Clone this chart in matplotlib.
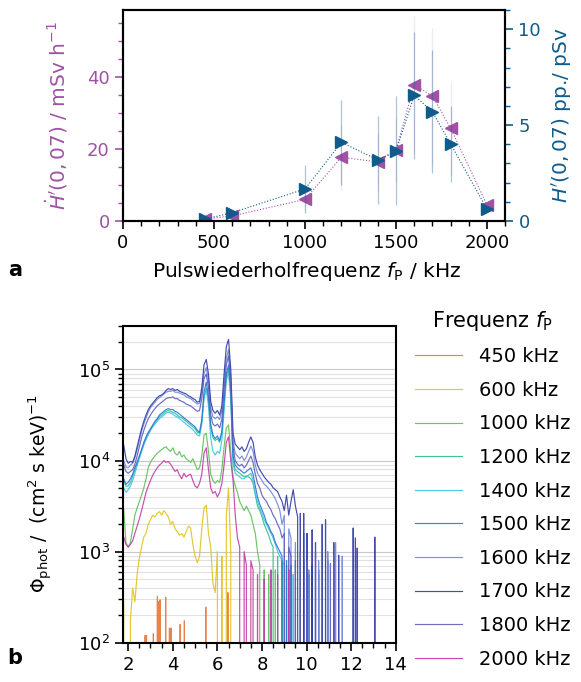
import numpy as np
import matplotlib
matplotlib.use("Agg")
import matplotlib.pyplot as plt
from matplotlib.ticker import MultipleLocator, LogLocator, NullFormatter

plt.rcParams['font.family'] = ['DejaVu Sans']
plt.rcParams['font.size'] = 13
plt.rcParams['mathtext.fontset'] = 'dejavusans'

# ---- Panel a: Dosisleistung / Dosis pro Puls ----
frequenz = [450, 600, 1000, 1200, 1400, 1500, 1600, 1700, 1800, 2000]
h_dot = [0.5, 1.4, 6.0, 17.7, 16.4, 19.7, 37.8, 34.7, 25.7, 4.4]          # mSv/h
h_dot_err = [0.3, 0.5, 3.0, 9.0, 8.0, 9.0, 19.0, 19.0, 13.0, 1.0]
h_pp = [0.1, 0.43, 1.67, 4.1, 3.18, 3.66, 6.55, 5.69, 4.01, 0.61]         # pSv
h_pp_err = [0.05, 0.1, 1.25, 2.23, 2.3, 2.84, 3.3, 3.2, 2.0, 0.1]

# ---- Panel b: Photonenspektren (log10 des Flusses, 0 = keine Zaehlung) ----
energie = np.round(np.arange(1.8, 9.65, 0.1), 1)  # keV

lg_600 = [2.45, 0, 0, 2.25, 2.6, 2.45, 2.75, 2.93, 3.05, 3.16,
          3.2, 3.3, 3.35, 3.4, 3.38, 3.42, 3.44, 3.40, 3.45, 3.42,
          3.38, 3.30, 3.33, 3.25, 3.22, 3.18, 3.20, 3.16, 3.22, 3.28,
          3.26, 3.08, 2.95, 2.88, 2.95, 3.25, 3.48, 3.51, 3.20, 3.05,
          2.65, 2.55, 3.0, 0, 2.95, 0, 3.4, 3.70, 3.0, 0,
          0, 0, 0, 0, 0, 0, 0, 0, 0, 0,
          0, 0, 0, 0, 0, 0, 0, 0, 0, 0,
          0, 0, 0, 0, 0, 0, 0, 0, 0]
lg_1000 = [3.46, 3.10, 3.05, 3.10, 3.25, 3.40, 3.48, 3.55, 3.62, 3.70,
           3.80, 3.92, 3.98, 4.02, 4.05, 4.08, 4.10, 4.12, 4.14, 4.15,
           4.12, 4.10, 4.14, 4.08, 4.06, 4.10, 4.04, 4.06, 4.02, 4.00,
           3.98, 4.02, 3.96, 3.90, 3.92, 4.05, 4.28, 4.30, 4.10, 3.85,
           3.78, 3.75, 3.78, 3.76, 3.90, 4.15, 4.36, 4.39, 4.10, 3.82,
           3.72, 3.65, 3.55, 3.50, 3.45, 3.50, 3.45, 3.40, 3.30, 3.20,
           3.0, 2.85, 0, 2.8, 0, 2.75, 0, 0, 2.8, 0,
           0, 0, 0, 0, 0, 0, 0, 0, 0]
lg_1200 = [3.78, 3.72, 3.72, 3.76, 3.82, 3.90, 3.97, 4.04, 4.11, 4.18,
           4.24, 4.30, 4.34, 4.38, 4.42, 4.45, 4.48, 4.50, 4.52, 4.54,
           4.55, 4.54, 4.53, 4.52, 4.50, 4.48, 4.47, 4.45, 4.43, 4.41,
           4.39, 4.37, 4.35, 4.31, 4.30, 4.42, 4.70, 4.80, 4.66, 4.36,
           4.25, 4.22, 4.24, 4.20, 4.30, 4.60, 4.92, 5.00, 4.72, 4.00,
           3.90, 3.88, 3.86, 3.84, 3.82, 3.83, 3.82, 3.80, 3.75, 3.62,
           3.50, 3.45, 3.38, 3.30, 3.24, 3.18, 3.10, 3.05, 0, 2.95,
           0, 2.9, 0, 2.85, 0, 0, 0, 0, 0]
lg_1400 = [3.70, 3.65, 3.68, 3.72, 3.78, 3.86, 3.94, 4.02, 4.10, 4.17,
           4.23, 4.28, 4.33, 4.37, 4.40, 4.43, 4.46, 4.48, 4.50, 4.52,
           4.53, 4.52, 4.51, 4.49, 4.48, 4.46, 4.44, 4.42, 4.40, 4.38,
           4.36, 4.34, 4.31, 4.28, 4.27, 4.40, 4.68, 4.78, 4.60, 4.25,
           4.10, 4.06, 4.10, 4.08, 4.22, 4.55, 4.88, 4.97, 4.68, 3.96,
           3.86, 3.84, 3.82, 3.80, 3.80, 3.82, 3.84, 3.86, 3.78, 3.64,
           3.55, 3.48, 3.42, 3.35, 3.30, 3.25, 3.20, 3.15, 3.08, 3.00,
           2.95, 2.9, 2.85, 0, 2.8, 0, 2.75, 0, 0]
lg_1500 = [3.80, 3.74, 3.76, 3.80, 3.85, 3.92, 3.98, 4.05, 4.12, 4.20,
           4.26, 4.31, 4.35, 4.39, 4.43, 4.46, 4.50, 4.52, 4.54, 4.56,
           4.57, 4.56, 4.56, 4.54, 4.53, 4.51, 4.49, 4.47, 4.45, 4.43,
           4.41, 4.39, 4.37, 4.33, 4.31, 4.45, 4.75, 4.86, 4.70, 4.40,
           4.28, 4.24, 4.27, 4.22, 4.32, 4.65, 4.95, 5.05, 4.78, 4.05,
           3.95, 3.92, 3.90, 3.88, 3.86, 3.88, 3.90, 3.92, 3.85, 3.72,
           3.60, 3.52, 3.46, 3.40, 3.32, 3.28, 3.22, 3.18, 3.10, 3.05,
           3.0, 2.95, 0, 2.9, 0, 2.85, 0, 0, 0]
lg_1600 = [4.00, 3.93, 3.92, 3.95, 3.97, 4.03, 4.12, 4.22, 4.32, 4.40,
           4.47, 4.53, 4.58, 4.61, 4.64, 4.67, 4.69, 4.71, 4.73, 4.75,
           4.76, 4.76, 4.77, 4.75, 4.75, 4.74, 4.73, 4.72, 4.70, 4.69,
           4.68, 4.66, 4.64, 4.62, 4.63, 4.75, 4.95, 5.02, 4.88, 4.58,
           4.48, 4.46, 4.48, 4.45, 4.55, 4.85, 5.12, 5.22, 4.92, 4.22,
           4.08, 4.05, 4.02, 4.05, 4.00, 4.04, 4.10, 4.16, 4.10, 3.95,
           3.86, 3.82, 3.78, 3.74, 3.72, 3.69, 3.66, 3.62, 3.58, 3.52,
           3.45, 3.30, 3.40, 0, 3.25, 3.15, 0, 3.1, 0]
lg_1700 = [4.17, 4.02, 3.97, 3.99, 3.98, 4.05, 4.15, 4.25, 4.35, 4.43,
           4.50, 4.56, 4.60, 4.63, 4.66, 4.69, 4.71, 4.72, 4.74, 4.77,
           4.79, 4.78, 4.79, 4.77, 4.78, 4.76, 4.75, 4.74, 4.73, 4.71,
           4.70, 4.68, 4.67, 4.64, 4.65, 4.80, 5.05, 5.11, 4.95, 4.65,
           4.55, 4.52, 4.55, 4.50, 4.60, 4.95, 5.25, 5.33, 5.00, 4.30,
           4.18, 4.15, 4.12, 4.15, 4.10, 4.13, 4.20, 4.26, 4.20, 4.04,
           3.95, 3.90, 3.86, 3.82, 3.79, 3.76, 3.74, 3.70, 3.68, 3.66,
           3.60, 3.55, 3.45, 3.62, 3.40, 3.55, 3.68, 3.50, 3.38]
lg_1800 = [3.95, 3.88, 3.86, 3.88, 3.90, 3.96, 4.05, 4.15, 4.25, 4.33,
           4.40, 4.46, 4.50, 4.54, 4.57, 4.60, 4.62, 4.64, 4.66, 4.68,
           4.69, 4.69, 4.70, 4.68, 4.68, 4.66, 4.65, 4.64, 4.62, 4.61,
           4.60, 4.58, 4.56, 4.54, 4.55, 4.68, 4.90, 4.95, 4.80, 4.50,
           4.40, 4.38, 4.40, 4.36, 4.45, 4.78, 5.05, 5.15, 4.85, 4.15,
           4.00, 3.96, 3.94, 3.96, 3.92, 3.95, 4.00, 4.05, 3.98, 3.85,
           3.75, 3.70, 3.62, 3.58, 3.55, 3.50, 3.46, 3.40, 3.36, 3.30,
           3.25, 3.15, 3.20, 0, 3.05, 2.95, 0, 2.9, 0]
lg_2000 = [3.16, 3.08, 3.05, 3.08, 3.12, 3.20, 3.28, 3.36, 3.45, 3.55,
           3.65, 3.72, 3.78, 3.84, 3.88, 3.92, 3.95, 3.97, 4.00, 3.98,
           3.99, 3.96, 3.92, 3.88, 3.90, 3.84, 3.80, 3.86, 3.82, 3.84,
           3.85, 3.78, 3.72, 3.70, 3.75, 3.85, 4.08, 4.14, 3.90, 3.70,
           3.64, 3.66, 3.60, 3.65, 3.75, 3.95, 4.20, 4.26, 4.00, 3.79,
           3.40, 3.15, 3.05, 0, 3.0, 2.85, 0, 2.9, 2.8, 0,
           2.75, 0, 0, 2.7, 0, 0, 2.8, 0, 0, 2.75,
           0, 0, 0, 0, 2.8, 0, 0, 0, 0]

# einzelne Zaehlereignisse (Energie keV, log10 Fluss)
spitzen_450 = [(2.76, 2.08), (2.82, 2.08), (3.13, 2.1), (3.31, 2.51), (3.37, 2.45),
               (3.43, 2.47), (3.68, 2.5), (3.85, 2.16), (3.92, 2.16), (4.33, 2.2),
               (4.52, 2.24), (5.48, 2.39), (6.47, 2.55)]
spitzen_1400 = [(10.1, 2.75), (10.25, 2.85), (10.54, 2.75)]
spitzen_1500 = [(9.87, 2.9), (10.1, 2.75), (10.25, 2.85), (10.54, 2.8), (10.95, 2.9)]
spitzen_1600 = [(9.87, 3.2), (10.1, 2.8), (10.54, 2.9), (10.95, 3.0), (11.3, 3.1), (11.6, 2.95)]
spitzen_1700 = [(9.72, 3.42), (9.87, 3.42), (10.02, 3.2), (10.25, 3.24), (10.4, 3.1),
                (10.7, 3.3), (10.85, 3.35), (11.22, 3.1), (11.44, 2.96), (12.09, 3.26),
                (12.19, 3.15), (12.27, 3.04), (13.06, 3.16)]
spitzen_1800 = [(9.72, 3.0), (10.02, 2.9), (10.4, 3.0), (11.07, 2.87), (11.22, 2.95)]

spektren = [
    ('450 kHz', None, spitzen_450, '#e8743b'),
    ('600 kHz', lg_600, [], '#e3c21a'),
    ('1000 kHz', lg_1000, [], '#5cbf55'),
    ('1200 kHz', lg_1200, [], '#2cbf86'),
    ('1400 kHz', lg_1400, spitzen_1400, '#3fc2e8'),
    ('1500 kHz', lg_1500, spitzen_1500, '#2a72d4'),
    ('1600 kHz', lg_1600, spitzen_1600, '#6f86d4'),
    ('1700 kHz', lg_1700, spitzen_1700, '#2f3aa8'),
    ('1800 kHz', lg_1800, spitzen_1800, '#5d5cb8'),
    ('2000 kHz', lg_2000, [], '#c23aa8'),
]


def spektrum(lg_haupt, spitzen):
    e, v = [], []
    if lg_haupt is not None:
        e = list(energie)
        v = [10 ** x if x > 0 else 0.0 for x in lg_haupt]
    for ep, lp in spitzen:
        e += [ep - 0.015, ep, ep + 0.015]
        v += [0.0, 10 ** lp, 0.0]
    return np.array(e), np.array(v)


lila = '#a052a5'
blau = '#0f5c8c'
lab_fs = 14.5

fig = plt.figure(figsize=(5.81, 6.82), dpi=100)

# Panel a
ax1 = fig.add_axes([0.2117, 0.676, 0.658, 0.3094])
ax2 = ax1.twinx()
ax1.errorbar(frequenz, h_dot, yerr=h_dot_err, fmt='none', ecolor=lila, alpha=0.13, elinewidth=1.0)
ax1.plot(frequenz, h_dot, ls=':', lw=0.8, color=lila, marker='<', ms=8.5, mec=lila, mfc=lila)
ax2.errorbar(frequenz, h_pp, yerr=h_pp_err, fmt='none', ecolor=blau, alpha=0.35, elinewidth=0.9)
ax2.plot(frequenz, h_pp, ls=':', lw=0.8, color=blau, marker='>', ms=8.5, mec=blau, mfc=blau)

ax1.set_xlim(0, 2100)
ax1.set_ylim(0, 58.6)
ax2.set_ylim(0, 11)
ax1.xaxis.set_major_locator(MultipleLocator(500))
ax1.xaxis.set_minor_locator(MultipleLocator(100))
ax1.yaxis.set_major_locator(MultipleLocator(20))
ax1.yaxis.set_minor_locator(MultipleLocator(5))
ax2.yaxis.set_major_locator(MultipleLocator(5))
ax2.yaxis.set_minor_locator(MultipleLocator(1))

for sp in ax1.spines.values():
    sp.set_linewidth(1.5)
for sp in ax2.spines.values():
    sp.set_linewidth(1.5)
ax1.tick_params(axis='x', which='major', length=6, width=1.2)
ax1.tick_params(axis='x', which='minor', length=3.5, width=1.0)
ax1.tick_params(axis='y', which='major', length=6, width=1.2, colors=lila)
ax1.tick_params(axis='y', which='minor', length=3.5, width=1.0, colors=lila)
ax2.tick_params(axis='y', which='major', length=6, width=1.2, colors=blau)
ax2.tick_params(axis='y', which='minor', length=3.5, width=1.0, colors=blau)

ax1.set_xlabel(r"Pulswiederholfrequenz $f_\mathrm{P}$ / kHz", fontsize=lab_fs)
ax1.xaxis.set_label_coords(0.48, -0.185)
ax1.set_ylabel(r"$\dot{H}'(0,07)$ / mSv h$^{-1}$", color=lila, fontsize=lab_fs, labelpad=12)
ax2.set_ylabel(r"$H'(0,07)$ pp./ pSv", color=blau, fontsize=lab_fs, labelpad=6)

# Panel b
ax3 = fig.add_axes([0.2122, 0.0576, 0.469, 0.4644])
for name, lg_haupt, spitzen, farbe in spektren:
    e, v = spektrum(lg_haupt, spitzen)
    ax3.plot(e, v, color=farbe, lw=0.85, alpha=0.9, label=name)

ax3.set_yscale('log')
ax3.set_xlim(1.78, 14)
ax3.set_ylim(1e2, 3e5)
ax3.xaxis.set_major_locator(MultipleLocator(2))
ax3.xaxis.set_minor_locator(MultipleLocator(0.5))
ax3.yaxis.set_minor_locator(LogLocator(base=10, subs=np.arange(2, 10)))
ax3.yaxis.set_minor_formatter(NullFormatter())
ax3.grid(True, which='major', axis='y', color='#c8c8c8', lw=0.8)
ax3.grid(True, which='minor', axis='y', color='#e0e0e0', lw=0.8)
ax3.set_axisbelow(True)
for sp in ax3.spines.values():
    sp.set_linewidth(1.5)
ax3.tick_params(which='major', length=6, width=1.2)
ax3.tick_params(which='minor', length=3.5, width=1.0)
ax3.set_ylabel(r"$\Phi_\mathrm{phot}$ /  (cm$^2$ s keV)$^{-1}$", fontsize=13.5)
ax3.yaxis.set_label_coords(-0.25, 0.47)

leg = ax3.legend(title=r"Frequenz $f_\mathrm{P}$", loc='upper left',
                 bbox_to_anchor=(0.684, 0.573), bbox_transform=fig.transFigure,
                 frameon=False, handlelength=2.4, handletextpad=0.9, labelspacing=0.75,
                 fontsize=14, title_fontsize=15)

fig.text(0.026, 0.604, 'a', fontsize=15, fontweight='bold', va='center', ha='center')
fig.text(0.026, 0.035, 'b', fontsize=15, fontweight='bold', va='center', ha='center')

fig.savefig('out.png', dpi=100)
